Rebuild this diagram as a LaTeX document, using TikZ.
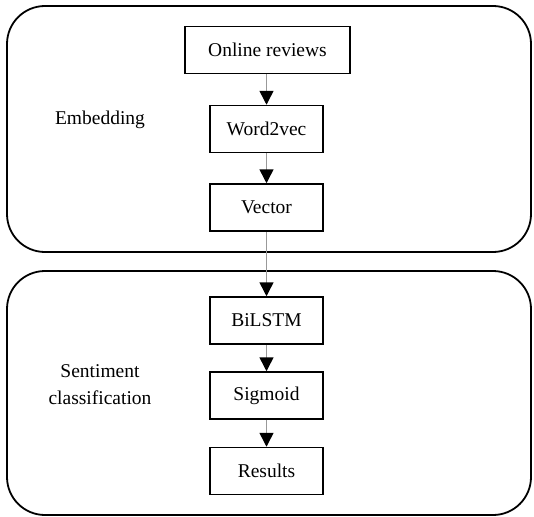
\documentclass[tikz,border=0pt]{standalone}
\usepackage{fontspec}
\setmainfont{Liberation Serif}
\usetikzlibrary{arrows.meta}
\begin{document}
\begin{tikzpicture}[x=1pt,y=-1pt,
  stagebox/.style={draw=black,line width=1.5pt,minimum width=113pt,minimum height=47pt,inner sep=0pt,font=\fontsize{19.5}{23}\selectfont},
  container/.style={draw=black,line width=1.8pt,rounded corners=38pt},
  flow/.style={draw=black!40,line width=1.5pt,-{Triangle[color=black,length=14pt,width=14pt]}},
  lbl/.style={font=\fontsize{19.5}{23}\selectfont,align=center}]
\useasboundingbox (0,0) rectangle (534,516);
\draw[container] (7,6) rectangle (531,252);
\draw[container] (7,271) rectangle (531,515);
\node[stagebox,minimum width=165pt] (rev) at (267.5,50) {Online reviews};
\node[stagebox] (w2v) at (266.5,129) {Word2vec};
\node[stagebox] (vec) at (266.5,207.5) {Vector};
\node[stagebox] (bil) at (266.5,320.5) {BiLSTM};
\node[stagebox] (sig) at (266.5,395.5) {Sigmoid};
\node[stagebox] (res) at (266.5,471) {Results};
\node[lbl] (emb) at (100,120) {Embedding};
\node[lbl] (sen) at (100,384.5) {Sentiment\\[4pt]classification};
\draw[flow] (rev.south -| w2v) -- (w2v.north);
\draw[flow] (w2v) -- (vec);
\draw[flow] (vec) -- (bil);
\draw[flow] (bil) -- (sig);
\draw[flow] (sig) -- (res);
\end{tikzpicture}
\end{document}
